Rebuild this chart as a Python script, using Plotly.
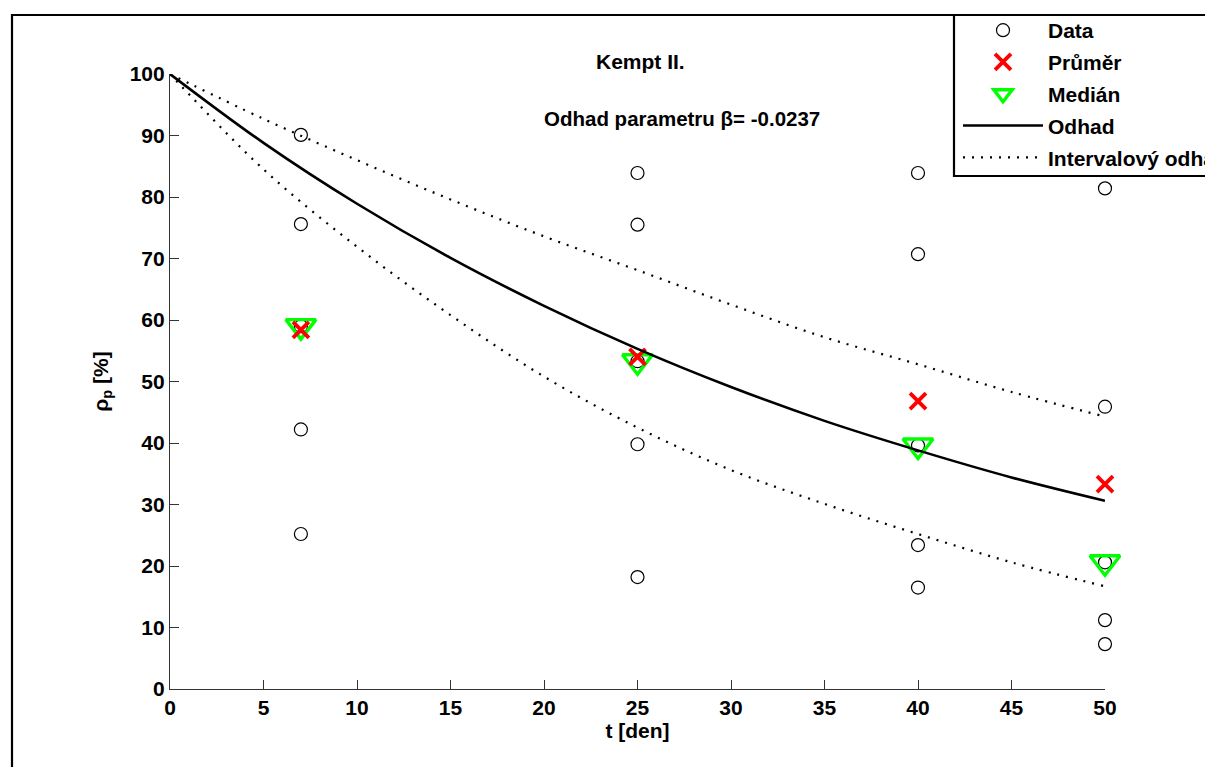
import plotly.graph_objects as go

# ---- data ----
t_data = [7, 7, 7, 7, 7, 25, 25, 25, 25, 25, 40, 40, 40, 40, 40, 50, 50, 50, 50, 50]
rho_data = [90.1, 75.6, 59.0, 42.2, 25.2,
            83.9, 75.5, 53.3, 39.8, 18.2,
            83.9, 70.7, 39.6, 23.4, 16.5,
            81.4, 45.9, 20.6, 11.2, 7.3]

t_groups = [7, 25, 40, 50]
mean_vals = [58.4, 54.0, 46.8, 33.3]
median_vals = [59.0, 53.3, 39.6, 20.6]

t_curve = [0, 5, 10, 15, 20, 25, 30, 35, 40, 45, 50]
odhad = [100, 88.8, 78.9, 70.1, 62.3, 55.3, 49.1, 43.6, 38.8, 34.4, 30.6]
upper = [100, 92.7, 86.0, 79.6, 73.6, 68.1, 62.5, 57.2, 52.8, 48.3, 44.3]
lower = [100, 84.5, 71.9, 60.8, 50.8, 42.5, 35.6, 30.1, 25.2, 20.6, 16.7]

x_ticks = [0, 5, 10, 15, 20, 25, 30, 35, 40, 45, 50]
y_ticks = [0, 10, 20, 30, 40, 50, 60, 70, 80, 90, 100]

title1 = "Kempt II."
title2 = "Odhad parametru β= -0.0237"

FONT = "Liberation Sans, Arial, sans-serif"

fig = go.Figure()

fig.add_trace(go.Scatter(
    x=t_data, y=rho_data, mode="markers", name="Data",
    marker=dict(symbol="circle-open", size=13, color="black", line=dict(width=1.2)),
    cliponaxis=False, legendgroup="a", legendrank=1,
))
fig.add_trace(go.Scatter(
    x=t_groups, y=median_vals, mode="markers", name="Medián",
    marker=dict(symbol="triangle-down-open", size=26, color="#00ff00", line=dict(width=3.4)),
    cliponaxis=False, legendgroup="c", legendrank=3,
))
fig.add_trace(go.Scatter(
    x=t_groups, y=mean_vals, mode="markers", name="Průměr",
    marker=dict(symbol="x-thin-open", size=16, color="#ff0000", line=dict(width=3.8, color="#ff0000")),
    cliponaxis=False, legendgroup="b", legendrank=2,
))
fig.add_trace(go.Scatter(
    x=t_curve, y=odhad, mode="lines", name="Odhad", line_shape="spline",
    line=dict(color="black", width=2.6), cliponaxis=False, legendgroup="d", legendrank=4,
))
fig.add_trace(go.Scatter(
    x=t_curve, y=upper, mode="lines", name="Intervalový odhad", line_shape="spline",
    line=dict(color="black", width=2.2, dash="2px,7px"), cliponaxis=False,
    legendgroup="e", legendrank=5,
))
fig.add_trace(go.Scatter(
    x=t_curve, y=lower, mode="lines", name="Intervalový odhad", line_shape="spline",
    line=dict(color="black", width=2.2, dash="2px,7px"), cliponaxis=False,
    legendgroup="e", showlegend=False, legendrank=5,
))

# page has an 8px body margin; work in page pixels and convert
OFF = 8
W, H = 1213 - OFF, 767 - OFF
PL, PR, PT, PB = 170, 1105, 74, 689          # plot area in page pixels
L, R, T, B = PL - OFF, W - (PR - OFF), PT - OFF, H - (PB - OFF)
pw, ph = W - L - R, H - T - B

def px(xp):
    return (xp - OFF - L) / pw

def py(yp):
    return (H - B - (yp - OFF)) / ph

fs = 21
tfont = dict(family=FONT, size=fs, color="black", weight="bold")

axis_common = dict(
    showgrid=False, zeroline=False, showline=True, linecolor="#333333", linewidth=1.2,
    ticks="inside", ticklen=9, tickcolor="#333333", tickwidth=1.2,
    tickfont=tfont, mirror=False,
)

fig.update_xaxes(range=[0, 50], tickvals=x_ticks, ticktext=[str(v) for v in x_ticks],
                 title=dict(text="t [den]", font=tfont, standoff=3), **axis_common)
fig.update_yaxes(range=[0, 100], tickvals=y_ticks, ticktext=[str(v) for v in y_ticks],
                 title=dict(text="ρ<sub>p</sub> [%]", font=tfont, standoff=15), **axis_common)

# outer frame
fig.add_shape(type="rect", xref="paper", yref="paper",
              x0=px(12), x1=px(1400), y0=py(900), y1=py(15),
              line=dict(color="black", width=2.2), fillcolor="rgba(0,0,0,0)", layer="above")
# legend box
fig.add_shape(type="rect", xref="paper", yref="paper",
              x0=px(954), x1=px(1400), y0=py(176), y1=py(15),
              line=dict(color="black", width=2.2), fillcolor="white", layer="above")

fig.add_annotation(text=title1, xref="paper", yref="paper", x=px(640), y=py(48),
                   showarrow=False, font=tfont)
fig.add_annotation(text=title2, xref="paper", yref="paper", x=px(682), y=py(105),
                   showarrow=False, font=dict(family=FONT, size=20.5, color="black", weight="bold"))

fig.update_layout(
    width=W, height=H,
    margin=dict(l=L, r=R, t=T, b=B, autoexpand=False),
    paper_bgcolor="white", plot_bgcolor="white",
    font=tfont,
    legend=dict(x=px(958), y=py(10), xanchor="left", yanchor="top",
                bgcolor="rgba(0,0,0,0)", borderwidth=0,
                font=tfont, itemwidth=80, tracegroupgap=1.5, traceorder="grouped",
                itemsizing="trace"),
)

fig.write_html("out.html")
